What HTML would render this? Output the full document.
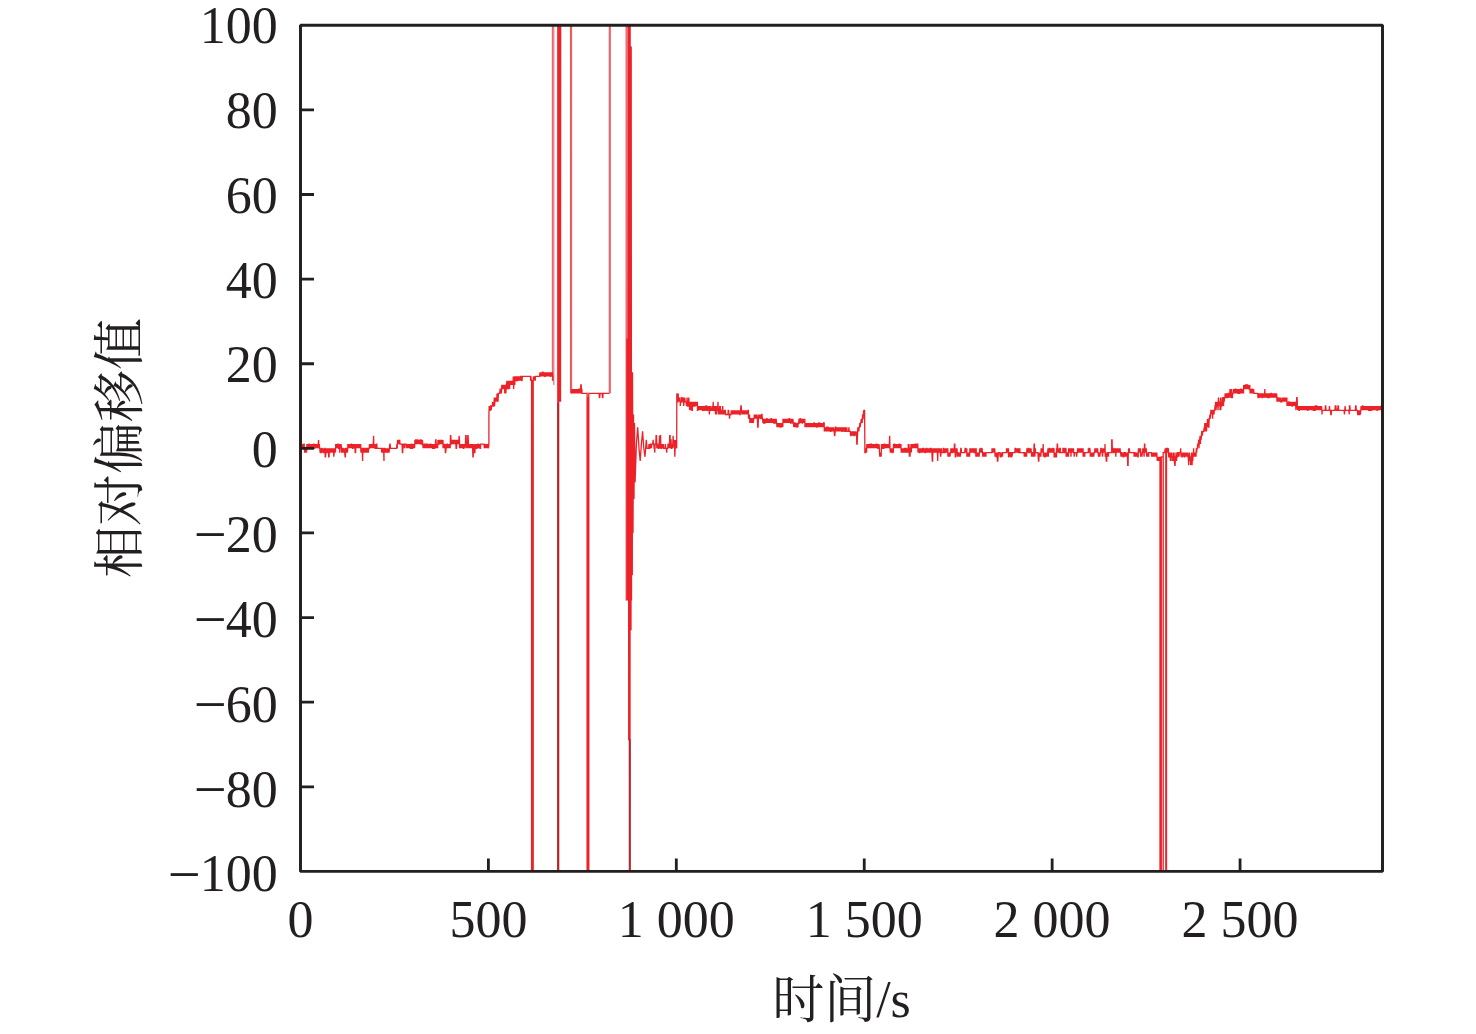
<!DOCTYPE html>
<html lang="zh"><head><meta charset="utf-8"><title>相对偏移值</title>
<style>html,body{margin:0;padding:0;background:#fff}svg{display:block}</style></head>
<body><svg width="1476" height="1034" viewBox="0 0 1476 1034">
<defs><clipPath id="c"><rect x="300.5" y="25.3" width="1082.0" height="846.1"/></clipPath></defs>
<rect width="1476" height="1034" fill="#fff"/>
<path clip-path="url(#c)" d="M300.5 452.6L300.8 448.3L301.2 452.6L301.5 448.3L302.2 448.3L302.5 444.1L302.9 448.3L303.6 448.3L303.9 444.1L304.2 444.1L304.6 452.6L304.9 448.3L305.3 452.6L305.6 448.3L305.9 452.6L306.3 448.3L306.6 452.6L306.9 444.1L307.2 448.3L307.5 448.3L307.9 444.1L308.2 448.3L308.6 448.3L308.9 444.1L309.2 444.1L309.6 448.3L310.3 448.3L310.6 444.1L310.9 448.3L311.3 444.1L311.6 448.3L312 448.3L312.3 444.1L312.6 448.3L313 444.1L313.3 448.3L313.7 444.1L314 444.1L314.2 448.3L314.5 448.3L314.8 444.1L315.2 448.3L315.5 444.1L315.9 448.3L316.2 444.1L316.5 448.3L316.9 444.1L317.2 448.3L317.6 444.1L317.9 448.3L318.2 444.1L318.6 439.9L318.9 448.3L319.3 444.1L319.6 448.3L319.8 448.3L320.1 452.6L320.5 448.3L320.8 452.6L321.2 452.6L321.5 448.3L321.8 448.3L322.2 452.6L322.5 448.3L322.9 452.6L323.2 448.3L323.5 452.6L324.2 452.6L324.6 448.3L324.9 448.3L325.2 456.8L325.6 456.8L325.9 452.6L326.3 448.3L326.6 452.6L326.9 448.3L327.3 452.6L327.6 452.6L327.7 448.3L328.1 452.6L328.4 448.3L328.7 456.8L329.1 456.8L329.4 448.3L329.8 452.6L330.1 448.3L330.4 452.6L330.8 448.3L331.1 452.6L331.5 448.3L331.8 452.6L332.1 448.3L332.5 452.6L332.8 448.3L333.2 452.6L333.5 448.3L333.8 456.8L334.2 452.6L334.5 448.3L334.9 452.6L335.2 448.3L335.5 452.6L335.7 444.1L336 448.3L336.4 444.1L336.7 448.3L337.1 444.1L337.4 448.3L337.7 444.1L338.1 444.1L338.4 448.3L338.8 448.3L339.1 444.1L339.4 448.3L339.8 452.6L340.1 448.3L340.5 444.1L340.8 448.3L341.1 444.1L341.5 448.3L341.7 452.6L342 448.3L342.3 452.6L342.7 448.3L343 448.3L343.4 452.6L343.7 448.3L344 452.6L344.4 448.3L344.7 452.6L345.1 456.8L345.4 456.8L345.7 448.3L346.4 448.3L346.8 452.6L347.1 448.3L347.4 452.6L347.8 448.3L347.8 444.1L348.2 448.3L348.5 444.1L348.9 448.3L349.2 444.1L349.5 448.3L349.9 444.1L350.2 448.3L350.6 444.1L350.9 448.3L351.2 444.1L351.6 444.1L351.9 448.3L352.3 444.1L352.6 448.3L352.9 448.3L353.3 444.1L353.6 448.3L354 444.1L354.3 448.3L354.6 444.1L354.9 448.3L355.2 452.6L355.6 452.6L355.9 444.1L356.3 448.3L356.6 444.1L356.9 448.3L357.3 444.1L357.6 448.3L358 444.1L358.3 448.3L358.6 444.1L359 448.3L359.3 444.1L359.7 448.3L360 444.1L360.3 448.3L360.7 444.1L360.9 452.6L361.2 448.3L361.5 448.3L361.9 452.6L362.2 448.3L362.6 461L362.9 448.3L363.2 448.3L363.6 452.6L363.9 448.3L364.6 448.3L364.9 452.6L365.3 448.3L365.6 452.6L366 448.3L366.3 448.3L366.6 452.6L367 448.3L367.3 452.6L367.7 448.3L368 448.3L368.3 452.6L368.7 448.3L369.2 448.3L369.5 444.1L369.9 448.3L370.2 444.1L370.5 448.3L370.9 444.1L371.2 448.3L371.6 444.1L371.9 448.3L372.2 444.1L372.6 448.3L372.9 444.1L373.3 444.1L373.6 435.7L373.9 448.3L374.3 444.1L374.6 448.3L375 444.1L375.1 448.3L376.1 448.3L376.4 444.1L376.8 444.1L377.1 448.3L381.5 448.3L381.6 452.6L381.9 448.3L382.3 448.3L382.6 452.6L383 448.3L383.3 452.6L383.6 448.3L384 461L384 448.3L384.7 448.3L385 452.6L385.4 448.3L385.7 452.6L386 448.3L386.4 452.6L386.7 448.3L387.1 452.6L387.4 448.3L387.7 452.6L388.1 448.3L388.4 452.6L388.8 448.3L389.1 452.6L389.4 448.3L389.8 444.1L390.1 444.1L390.5 448.3L396.6 448.3L396.9 444.1L397.3 448.3L397.3 444.1L397.6 439.9L398 444.1L398.3 439.9L398.6 444.1L399 439.9L399.3 444.1L399.7 439.9L400 444.1L402 444.1L402.4 452.6L402.7 452.6L403.1 444.1L404.1 444.1L404.4 448.3L404.8 444.1L406.1 444.1L406.4 448.3L406.8 444.1L407.1 448.3L407.5 444.1L407.8 448.3L408.1 444.1L408.5 448.3L408.8 444.1L409.2 448.3L409.5 444.1L409.8 448.3L410.2 444.1L410.5 448.3L411.2 448.3L411.5 444.1L411.9 444.1L412.2 448.3L412.6 448.3L412.9 444.1L413.2 448.3L413.6 444.1L413.9 448.3L414.3 444.1L414.6 448.3L414.9 439.9L415.2 444.1L415.6 439.9L415.9 439.9L416.3 444.1L416.6 439.9L416.9 444.1L417.3 439.9L417.6 439.9L418 444.1L418.3 439.9L418.6 444.1L419 439.9L419.3 444.1L419.7 439.9L420 444.1L420.3 439.9L420.7 439.9L421 444.1L421.4 444.1L421.7 439.9L422 444.1L422.4 439.9L422.7 444.1L422.8 444.1L423.1 448.3L423.5 444.1L423.8 448.3L424.2 444.1L424.5 444.1L424.8 448.3L425.2 444.1L425.5 444.1L425.9 448.3L426.2 444.1L426.5 444.1L426.9 448.3L427.2 444.1L427.6 444.1L427.9 448.3L428.2 444.1L428.6 448.3L428.9 444.1L429.3 448.3L429.6 444.1L429.9 448.3L430.3 444.1L430.9 444.1L431.2 448.3L431.6 444.1L431.9 448.3L432.2 444.1L432.6 448.3L432.9 448.3L433.3 444.1L433.6 448.3L433.9 444.1L434.3 448.3L434.6 448.3L435 444.1L435.3 448.3L435.6 439.9L436 439.9L436.3 448.3L436.7 444.1L437 448.3L437.3 444.1L437.7 448.3L437.9 439.9L438.2 444.1L438.6 439.9L438.9 444.1L439.2 444.1L439.6 439.9L439.9 444.1L440.3 439.9L440.6 444.1L440.9 439.9L441.3 444.1L441.6 439.9L442 444.1L442.3 439.9L442.6 444.1L443 439.9L443 448.3L443.3 444.1L443.7 444.1L444 448.3L444.4 444.1L444.7 448.3L445 444.1L445.4 452.6L445.7 452.6L446.1 448.3L446.4 444.1L446.7 448.3L447.1 444.1L447.4 444.1L447.4 448.3L447.8 444.1L448.1 448.3L448.5 444.1L448.8 448.3L449.1 444.1L449.5 448.3L449.8 444.1L450.2 448.3L450.5 435.7L450.8 435.7L451.2 444.1L451.3 444.1L451.7 439.9L452 444.1L452.3 439.9L452.7 444.1L453 439.9L453.4 444.1L453.7 439.9L454 444.1L454.4 439.9L454.7 444.1L455.1 439.9L455.4 444.1L455.7 439.9L456.1 448.3L456.4 448.3L456.8 444.1L457.1 439.9L457.4 444.1L457.8 439.9L458.1 444.1L458.5 439.9L458.8 444.1L459.1 435.7L459.5 439.9L459.6 448.3L459.9 444.1L460.3 448.3L460.6 444.1L460.9 448.3L461.3 444.1L461.6 448.3L462 444.1L462 448.3L462.3 444.1L462.7 448.3L463 444.1L463.4 448.3L463.7 448.3L464 444.1L464.4 448.3L464.7 444.1L465.1 448.3L465.4 444.1L465.7 435.7L466.1 435.7L466.4 444.1L466.8 448.3L467.1 444.1L467.4 448.3L467.8 435.7L468.1 435.7L468.5 444.1L468.8 448.3L469.1 444.1L469.5 448.3L469.8 444.1L470.2 448.3L470.5 444.1L470.8 448.3L471.2 444.1L471.5 448.3L471.9 444.1L472.2 448.3L472.5 444.1L472.9 456.8L473.2 456.8L473.6 448.3L473.9 444.1L474.2 448.3L474.6 452.6L474.9 452.6L475.3 444.1L475.6 448.3L475.9 448.3L476.3 444.1L476.6 448.3L477 448.3L477.3 444.1L477.6 448.3L478 444.1L478.3 444.1L478.7 448.3L479 444.1L479.3 448.3L479.7 444.1L480 448.3L480.4 448.3L480.7 444.1L484 444.1L484.3 448.3L484.7 444.1L485 448.3L485.4 444.1L485.7 448.3L486 444.1L486.4 448.3L486.7 444.1L487.1 448.3L487.4 444.1L487.7 448.3L488.1 444.1L488.4 448.3L488.9 444.1L488.9 414.5L489.2 406L489.5 410.3L490.2 410.3L490.6 406L490.9 406L491.2 410.3L491.6 406L492.3 406L492.6 401.8L492.9 406L493.3 401.8L493.6 406L494 406L494.3 397.6L494.6 406L495 397.6L495.3 401.8L495.7 397.6L496 401.8L496.3 397.6L496.7 401.8L497 393.4L497.4 397.6L497.7 397.6L498 401.8L498.4 393.4L499.7 393.4L500.1 389.1L500.4 389.1L500.8 393.4L501.1 389.1L501.4 393.4L501.8 384.9L502.1 389.1L502.5 384.9L502.8 389.1L503.1 384.9L503.5 389.1L503.8 384.9L504.2 389.1L504.5 384.9L504.8 393.4L505.2 389.1L505.5 384.9L505.9 393.4L506.2 384.9L506.5 384.9L506.9 380.7L507.2 389.1L507.6 380.7L507.9 389.1L508.2 384.9L508.6 380.7L508.9 389.1L509.3 380.7L509.6 389.1L509.9 380.7L510.3 384.9L510.6 380.7L511 384.9L511.3 380.7L511.6 384.9L512 380.7L512.3 384.9L512.7 380.7L513 384.9L513.3 376.4L513.7 389.1L514 380.7L514.4 376.4L514.7 384.9L515 380.7L515.3 376.4L515.7 380.7L516 376.4L516.4 380.7L516.7 380.7L517 376.4L517.4 380.7L517.7 380.7L518.1 376.4L518.4 380.7L518.7 376.4L519.1 380.7L519.4 376.4L519.8 380.7L520.1 376.4L520.4 380.7L520.8 376.4L521.3 376.4L521.7 380.7L522 380.7L522.4 376.4L530.5 376.4L530.6 380.7L530.9 376.4L531.3 380.7L531.6 380.7L531.6 998.3L532.1 998.3L532.1 380.7L532.7 380.7L532.7 998.3L533.2 998.3L533.2 380.7L533.5 376.4L533.8 380.7L534.2 376.4L534.5 380.7L534.9 376.4L535.2 380.7L535.5 376.4L539.6 376.4L540 372.2L540.3 376.4L540.7 372.2L541 376.4L541.3 372.2L541.7 376.4L542 372.2L542.4 376.4L542.7 372.2L543 372.2L543.4 376.4L543.7 372.2L544.1 376.4L544.4 372.2L544.7 376.4L545.1 376.4L545.4 372.2L545.8 376.4L546.1 372.2L546.4 376.4L546.8 372.2L547.1 376.4L547.5 372.2L547.8 376.4L548 372.2L548.3 376.4L548.7 372.2L549 376.4L549.4 372.2L549.7 376.4L550 372.2L550.4 376.4L550.7 376.4L551.1 372.2L551.4 376.4L551.7 372.2L552.1 376.4L552.4 372.2L552.8 376.4L552.9 380.7M557.8 -101.6L557.8 998.3M558.6 998.3L558.6 -101.6M559.2 -101.6L559.2 401.8L559.5 -101.6L559.9 401.8L560.3 -101.6L560.5 401.8L560.7 -101.6M571.6 393.4L572 389.1L572.3 393.4L572.7 389.1L573 393.4L573.4 389.1L573.7 393.4L574 389.1L574.4 393.4L574.7 389.1L575.1 393.4L575.4 389.1L575.7 393.4L576.1 389.1L576.4 393.4L576.8 389.1L577.1 393.4L577.4 389.1L577.8 393.4L578.1 389.1L578.5 393.4L578.8 389.1L579.1 389.1L579.5 393.4L579.8 389.1L580.2 393.4L580.5 389.1L580.8 384.9L581.2 384.9L581.5 393.4L581.9 389.1L582 393.4L587.1 393.4L587.1 998.3L587.6 998.3L587.6 397.6L588.2 397.6L588.2 998.3L588.8 998.3L588.8 393.4L599.1 393.4L599.4 397.6L599.7 397.6L600.1 393.4L602.1 393.4L602.5 397.6L602.8 397.6L603.1 393.4L609.3 393.4M626.9 338.4L626.9 600.6L627.5 338.4L627.9 600.6L628.4 -101.6L628.7 740.3L629.1 -101.6L629.6 998.3L630 998.3L630.1 -101.6L630.4 630.3L630.7 46.5L631 630.3L631.2 46.5L631.5 600.6L631.9 372.2L632.3 575.3L632.5 372.2L633 533L633.5 414.5L634 499.1L634.5 423L635.1 482.2L636.4 444.1L637.7 427.2L639 448.3L640.2 461L641.4 444.1L642.6 431.4L643.8 448.3L645 456.8L646.3 439.9L647 448.3L648.7 448.3L649 444.1L649.3 448.3L649.7 448.3L650 444.1L650.4 448.3L650.7 444.1L651 444.1L651.4 448.3L651.7 444.1L652.7 444.1L653.1 439.9L653.4 444.1L653.8 444.1L654.1 448.3L654.4 448.3L654.8 452.6L655.1 444.1L655.8 444.1L656.1 435.7L656.5 435.7L656.8 448.3L657.2 444.1L657.8 444.1L658.2 448.3L658.9 448.3L659.2 444.1L659.5 435.7L659.9 448.3L660.2 435.7L660.6 435.7L660.9 448.3L661.6 448.3L661.9 444.1L662.3 448.3L662.6 444.1L662.9 448.3L663.3 444.1L663.6 448.3L665 448.3L665.3 444.1L665.7 448.3L666.3 448.3L666.7 452.6L667 448.3L667.7 448.3L668 444.1L668.4 444.1L668.7 448.3L669.1 444.1L669.4 448.3L669.7 435.7L670.1 435.7L670.4 448.3L670.8 439.9L671.1 439.9L671.4 448.3L671.8 448.3L672.1 444.1L672.5 448.3L672.8 444.1L673.1 435.7L673.5 444.1L673.8 444.1L674.2 448.3L674.5 439.9L674.8 456.8L675.2 448.3L675.5 439.9L675.9 444.1L676.2 444.1L676.7 448.3L676.8 393.4L677.3 401.8L677.8 401.8L678.2 393.4L678.5 401.8L678.9 397.6L679.2 401.8L679.5 397.6L679.9 401.8L680 397.6L680.3 406L680.7 401.8L681.4 401.8L681.7 397.6L682 397.6L682.4 401.8L683.1 401.8L683.4 397.6L683.7 406L684.1 401.8L684.4 401.8L684.8 397.6L685.1 401.8L686.1 401.8L686.5 406L686.8 401.8L687.1 397.6L687.5 406L688.2 406L688.5 401.8L688.8 397.6L689.2 406L689.3 401.8L689.6 410.3L690 401.8L690.3 410.3L690.7 401.8L691 410.3L691.3 406L691.7 401.8L692 410.3L692.4 410.3L692.6 401.8L692.9 406L693.3 401.8L693.6 406L694 406L694.3 401.8L694.6 406L695 406L695.3 401.8L695.7 406L696 401.8L696.3 406L696.7 401.8L697 406L697.4 401.8L697.5 410.3L697.8 410.3L698.2 406L698.5 410.3L698.9 406L699.2 410.3L699.5 406L699.9 410.3L700.2 406L700.6 410.3L700.9 406L701.2 410.3L701.6 406L701.9 410.3L702.3 406L702.6 410.3L702.9 410.3L703.3 406L703.6 410.3L704 410.3L704.3 406L704.6 410.3L705 410.3L705.3 406L705.7 410.3L706 406L706.4 406L706.7 410.3L707.4 410.3L707.8 406L708.1 410.3L708.4 406L708.8 410.3L709.1 410.3L709.5 414.5L709.8 406L710.1 410.3L710.5 406L710.8 410.3L711.8 410.3L712.2 406L712.5 410.3L712.9 410.3L713.2 401.8L713.5 410.3L714.2 410.3L714.6 406L714.9 410.3L715.2 410.3L715.6 414.5L715.9 406L716.3 410.3L716.6 414.5L716.9 406L717.3 410.3L717.6 410.3L718 401.8L718.3 410.3L718.6 414.5L719 410.3L719.3 414.5L719.7 406L720 410.3L720.3 406L720.7 414.5L721 410.3L721.4 410.3L721.7 414.5L722 410.3L722.4 410.3L722.7 406L723.1 414.5L723.4 410.3L723.7 414.5L724.1 410.3L724.4 414.5L724.8 410.3L725.4 410.3L725.5 414.5L727.9 414.5L728.2 410.3L728.6 410.3L728.9 414.5L729.2 414.5L729.6 418.7L729.9 414.5L731 414.5L731.3 410.3L731.7 414.5L732 410.3L732.4 414.5L732.7 410.3L733 414.5L733.4 410.3L733.7 414.5L734.1 410.3L734.4 414.5L734.7 410.3L735.1 414.5L735.4 410.3L735.8 414.5L736.1 410.3L736.4 414.5L736.8 410.3L737.1 414.5L737.5 410.3L737.8 414.5L738.1 410.3L738.5 414.5L738.8 410.3L739.2 414.5L739.5 410.3L739.8 414.5L740.2 414.5L740.5 410.3L740.9 406L741.2 406L741.5 410.3L741.9 414.5L742.2 410.3L742.6 414.5L742.9 410.3L743.2 414.5L743.6 410.3L743.9 414.5L744.3 410.3L744.6 414.5L744.9 410.3L745 414.5L745.3 410.3L745.7 414.5L746 410.3L746.4 414.5L746.7 410.3L747 414.5L747.4 410.3L747.7 414.5L748.1 410.3L748.4 410.3L748.5 418.7L748.8 414.5L749.2 418.7L749.5 414.5L749.9 423L750 418.7L750.3 423L750.7 418.7L751.4 418.7L751.7 423L752 418.7L752.4 423L752.7 418.7L753.1 418.7L753.4 423L753.7 418.7L754 418.7L754.3 414.5L754.7 418.7L755 414.5L755.4 418.7L755.7 414.5L756 418.7L756.4 414.5L756.7 418.7L757.1 414.5L757.4 418.7L757.7 427.2L758.1 427.2L758.4 418.7L758.8 414.5L759.1 418.7L759.4 414.5L759.8 418.7L760.1 414.5L760.5 418.7L760.8 414.5L761 418.7L761.3 418.7L761.7 414.5L762 414.5L762.4 418.7L762.6 418.7L762.9 423L763.3 418.7L763.6 423L764 423L764.3 418.7L764.6 423L765 423L765.3 418.7L765.7 423L766 418.7L766.3 423L766.7 418.7L767 418.7L767.4 423L767.7 418.7L768 423L768.4 418.7L768.7 423L769.1 418.7L769.4 423L769.7 418.7L770.1 423L770.4 418.7L770.8 423L771.1 418.7L771.4 418.7L771.8 423L772.1 418.7L772.5 423L772.8 418.7L773.1 423L773.5 418.7L773.8 423L774.2 423L774.5 418.7L774.8 423L775.2 423L775.5 418.7L775.9 423L776.2 418.7L776.5 423L776.7 423L777 427.2L777.4 423L777.7 427.2L778.1 423L778.4 427.2L778.7 423L779.1 427.2L779.4 423L779.8 427.2L780.1 423L780.4 427.2L780.8 427.2L781.1 423L781.5 427.2L781.8 423L782.1 427.2L782.5 423L782.8 427.2L783 418.7L783.3 423L783.7 418.7L784 423L784.4 418.7L784.7 423L785 418.7L785.4 423L785.7 418.7L786.1 423L786.4 418.7L786.7 423L787.1 418.7L787.4 423L787.8 418.7L788.1 423L788.4 418.7L788.8 423L789.1 418.7L789.5 418.7L789.8 423L790.1 418.7L790.5 423L790.8 423L791.2 418.7L791.5 423L791.8 418.7L792.2 423L792.5 423L792.9 418.7L793.2 423L793.5 423L793.8 427.2L794.2 423L794.5 427.2L794.9 423L795.2 423L795.5 427.2L795.9 423L796.2 427.2L796.6 423L796.9 427.2L797.2 427.2L797.6 423L797.9 427.2L798.3 423L798.7 423L799 418.7L799.4 423L799.7 423L800.1 418.7L800.4 418.7L800.7 423L801.1 418.7L801.4 423L801.8 418.7L802.1 423L802.4 423L802.8 418.7L803.1 423L803.5 418.7L803.8 423L804.1 418.7L804.5 423L804.8 418.7L805 427.2L805.3 423L805.7 427.2L806 423L806.4 427.2L806.7 423L807 427.2L807.4 423L807.7 427.2L808.1 423L808.4 427.2L808.7 423L809.1 427.2L809.4 423L809.8 427.2L810.1 423L810.4 427.2L810.8 423L811.1 427.2L811.5 423L811.8 427.2L812 423L812.3 427.2L812.7 423L813 427.2L813.4 423L813.7 427.2L814 423L814.4 423L814.7 427.2L815.1 423L815.4 427.2L815.7 423L816.1 427.2L816.4 423L816.8 427.2L817.1 427.2L817.4 423L817.8 427.2L818.1 423L818.5 427.2L818.8 423L819.5 423L819.8 427.2L820.2 423L820.5 427.2L820.8 423L821.2 427.2L821.5 423L821.9 427.2L822.2 423L822.5 427.2L822.9 423L823.2 427.2L823.6 423L824.2 423L824.3 431.4L824.6 427.2L825 431.4L825.3 427.2L825.7 431.4L826 427.2L826.3 431.4L826.7 427.2L827 427.2L827.4 431.4L827.7 427.2L828 427.2L828.4 431.4L828.7 427.2L829.1 431.4L829.4 427.2L829.7 431.4L830.1 427.2L830.4 431.4L830.8 431.4L831.1 427.2L831.4 431.4L831.8 427.2L832.1 431.4L832.5 427.2L832.8 431.4L833.1 427.2L833.5 431.4L833.8 427.2L834.2 431.4L834.5 435.7L834.8 435.7L835.2 431.4L835.5 427.2L835.9 427.2L836.2 431.4L836.5 427.2L836.9 431.4L837.2 427.2L837.6 431.4L837.9 427.2L838.2 431.4L838.6 427.2L838.9 431.4L839.3 427.2L839.6 431.4L839.9 427.2L840.3 431.4L840.6 427.2L841 431.4L841.3 427.2L841.6 431.4L842 427.2L842 431.4L842.3 431.4L842.7 427.2L843 431.4L843.4 427.2L843.7 431.4L844 427.2L844.4 431.4L844.7 431.4L845.1 427.2L845.4 431.4L845.7 431.4L846.1 427.2L846.4 431.4L846.8 427.2L847.1 431.4L848.6 431.4L848.9 427.2L849.2 431.4L850.3 431.4L850.6 435.7L851 435.7L851.4 431.4L851.7 435.7L852.1 431.4L852.4 435.7L852.7 431.4L853.1 435.7L853.4 431.4L853.8 435.7L854.1 435.7L854.4 431.4L854.8 435.7L855.1 431.4L855.5 435.7L855.8 431.4L856.1 435.7L856.5 431.4L856.8 444.1L857.2 444.1L857.5 435.7L857.8 427.2L858.1 431.4L858.5 427.2L858.8 431.4L859.2 427.2L859.5 427.2L859.8 423L860.2 427.2L860.5 423L860.9 423L861.2 418.7L861.5 423L861.9 418.7L862.2 423L862.6 414.5L862.9 418.7L863.2 418.7L863.6 410.3L863.9 414.5L864.3 410.3L864.6 410.3L864.9 452.6L865.6 452.6L865.9 448.3L866.3 448.3L866.6 452.6L866.8 444.1L867.1 448.3L867.5 444.1L867.8 448.3L868.2 444.1L868.5 448.3L868.8 444.1L869.2 448.3L869.5 444.1L869.9 448.3L870.2 444.1L870.5 444.1L870.9 448.3L871.2 444.1L871.6 444.1L871.9 448.3L872.2 444.1L872.6 448.3L872.9 444.1L873.3 448.3L873.6 444.1L873.9 448.3L874.3 444.1L874.6 448.3L875 444.1L875.3 448.3L875.6 444.1L876 448.3L876.3 444.1L876.7 444.1L877 448.3L877.3 444.1L877.7 448.3L878 448.3L878.4 444.1L878.7 448.3L879 444.1L879.4 448.3L879.5 452.6L879.8 456.8L880.2 452.6L880.5 456.8L880.9 452.6L881.2 456.8L881.5 444.1L881.8 448.3L882.2 444.1L882.5 448.3L882.9 448.3L883.2 444.1L883.5 448.3L883.9 448.3L884.2 444.1L884.6 444.1L884.9 448.3L885.2 444.1L885.6 448.3L885.9 444.1L886.3 448.3L886.6 444.1L886.9 448.3L887.3 444.1L887.6 448.3L888 444.1L888.3 448.3L888.6 444.1L889 448.3L889.3 444.1L889.7 435.7L890 448.3L890.3 452.6L890.7 448.3L891 452.6L891.4 448.3L891.7 452.6L892 448.3L892.4 452.6L892.7 452.6L893.1 448.3L893.4 452.6L893.5 444.1L893.8 448.3L894.2 444.1L894.5 444.1L894.9 448.3L895.2 444.1L895.5 448.3L895.9 444.1L896.2 448.3L896.6 444.1L896.9 448.3L897.2 444.1L897.6 448.3L897.9 444.1L898.3 448.3L898.6 444.1L898.9 448.3L899.3 444.1L899.6 444.1L900 448.3L900.3 444.1L900.6 448.3L901 444.1L901 448.3L901.3 452.6L901.7 448.3L902 452.6L902.4 448.3L902.7 452.6L903 448.3L903.4 452.6L903.7 448.3L904.1 452.6L904.4 448.3L904.7 448.3L905.1 452.6L905.4 448.3L905.8 448.3L906.1 452.6L906.4 448.3L906.8 452.6L907.1 448.3L907.5 452.6L907.8 448.3L908 452.6L908.3 444.1L908.7 452.6L909 444.1L909.4 456.8L909.7 448.3L910 456.8L910.4 448.3L910.7 448.3L911.1 444.1L911.4 452.6L911.7 444.1L912 448.3L912.3 444.1L912.7 448.3L913 444.1L913.4 448.3L913.7 444.1L914 448.3L914.4 444.1L914.7 448.3L915.1 444.1L915.7 444.1L916.1 448.3L916.4 444.1L916.8 448.3L917.1 444.1L917.8 444.1L918 452.6L918.3 448.3L918.7 452.6L919 448.3L919.4 452.6L919.7 452.6L920 448.3L920.4 452.6L920.7 448.3L921.1 452.6L921.4 448.3L921.7 452.6L922.1 448.3L922.4 452.6L922.8 448.3L923.4 448.3L923.8 452.6L924.1 448.3L924.5 452.6L924.8 448.3L925.1 452.6L925.5 452.6L925.8 448.3L926.2 452.6L926.5 448.3L926.8 448.3L927.2 452.6L927.5 448.3L927.9 452.6L928.2 448.3L928.5 452.6L928.9 448.3L929.2 452.6L929.6 448.3L929.9 452.6L930.2 448.3L930.9 448.3L931.3 452.6L931.6 448.3L931.9 452.6L932.3 461L932.6 461L933 448.3L933.3 452.6L933.6 448.3L934 452.6L934.3 448.3L934.7 452.6L935 448.3L935.3 452.6L935.7 448.3L936 452.6L936.4 448.3L936.7 452.6L937 448.3L937.4 452.6L937.7 461L938.1 448.3L938.4 452.6L938.7 448.3L939.1 452.6L939.4 448.3L939.8 452.6L940 448.3L940.3 452.6L940.7 456.8L941 452.6L941.4 448.3L941.6 452.6L943 452.6L943.3 448.3L943.7 448.3L944 452.6L945 452.6L945.1 448.3L945.4 452.6L945.8 448.3L946.1 452.6L946.5 448.3L946.8 452.6L947.1 448.3L947.5 452.6L947.8 448.3L947.9 456.8L948.3 452.6L948.6 456.8L949 452.6L949.3 456.8L949.6 452.6L950 456.8L950.3 452.6L950.6 452.6L950.9 448.3L951.3 452.6L951.6 448.3L951.9 452.6L952.3 452.6L952.4 448.3L952.7 452.6L953.1 448.3L953.4 452.6L953.8 448.3L954.1 452.6L954.4 444.1L954.8 444.1L955.1 452.6L955.3 456.8L955.7 456.8L956 452.6L956.3 448.3L956.7 452.6L957 448.3L957.4 456.8L957.7 452.6L958 452.6L958.4 456.8L958.7 452.6L959.1 456.8L959.4 452.6L959.7 456.8L960.1 452.6L960.4 456.8L960.5 452.6L960.8 448.3L961.2 448.3L961.5 452.6L964.7 452.6L965.1 448.3L965.4 448.3L965.8 452.6L966.1 448.3L966.4 452.6L966.8 448.3L966.9 456.8L967.2 452.6L967.6 456.8L967.9 452.6L968.3 456.8L968.6 452.6L968.9 456.8L969.3 452.6L969.6 456.8L969.9 448.3L970.3 452.6L970.6 448.3L970.9 452.6L971.3 448.3L971.6 452.6L972 448.3L972.3 452.6L972.6 448.3L973 452.6L973.3 448.3L973.5 452.6L973.8 448.3L974.2 452.6L974.5 452.6L974.9 448.3L975.2 452.6L975.5 448.3L975.9 456.8L976.2 448.3L976.3 456.8L976.7 452.6L977 456.8L977.4 452.6L977.7 456.8L978 452.6L978.4 456.8L978.7 452.6L979.1 456.8L979.4 452.6L979.4 452.6L979.8 448.3L980.1 452.6L980.4 448.3L980.8 452.6L981.1 448.3L981.5 448.3L981.8 452.6L982.1 448.3L982.5 452.6L982.5 452.6L982.8 456.8L983.2 452.6L983.5 456.8L983.8 452.6L984.2 452.6L984.5 456.8L984.9 452.6L985.2 456.8L985.5 452.6L985.9 456.8L986.1 452.6L991.9 452.6L992 448.3L992.3 452.6L992.7 448.3L993 452.6L993.4 448.3L993.7 452.6L994 448.3L994.4 452.6L994.7 448.3L995.1 456.8L995.4 452.6L995.7 456.8L996.1 452.6L996.4 456.8L996.7 456.8L997.1 452.6L997.4 461L997.8 461L998.1 456.8L998.4 452.6L999.8 452.6L1000 456.8L1000.3 452.6L1000.7 456.8L1001 456.8L1001.3 452.6L1001.7 456.8L1002 452.6L1002.4 456.8L1002.7 452.6L1006.4 452.6L1006.5 448.3L1006.8 452.6L1007.1 448.3L1007.5 452.6L1007.8 448.3L1008.2 452.6L1008.5 448.3L1008.5 456.8L1008.8 456.8L1009.2 452.6L1009.5 452.6L1009.9 456.8L1010.2 452.6L1010.5 452.6L1010.9 456.8L1011.2 456.8L1011.4 452.6L1011.7 452.6L1012.1 456.8L1012.4 452.6L1014.8 452.6L1015.1 448.3L1015.5 448.3L1015.8 452.6L1016.1 448.3L1016.5 452.6L1016.8 448.3L1017.2 452.6L1017.5 448.3L1017.8 452.6L1018.2 448.3L1018.5 452.6L1018.9 452.6L1019.2 448.3L1019.5 452.6L1019.9 448.3L1019.9 452.6L1024 452.6L1024.3 456.8L1024.6 452.6L1024.9 452.6L1025.3 456.8L1025.6 452.6L1026 456.8L1026.3 452.6L1026.6 456.8L1026.9 448.3L1027.2 452.6L1027.6 448.3L1027.9 452.6L1028.3 448.3L1028.6 448.3L1028.9 452.6L1029.3 452.6L1029.6 448.3L1030 452.6L1030.3 448.3L1030.6 452.6L1031 448.3L1031.3 452.6L1031.4 452.6L1031.7 456.8L1032 452.6L1032.4 452.6L1032.7 456.8L1033.1 452.6L1033.4 456.8L1033.7 452.6L1034.1 444.1L1034.4 444.1L1034.8 456.8L1035.1 452.6L1035.4 448.3L1035.5 452.6L1037.8 452.6L1038.2 456.8L1038.5 461L1038.8 461L1039.2 452.6L1039.5 456.8L1039.9 452.6L1040.2 456.8L1040.5 452.6L1040.9 456.8L1041.1 448.3L1041.5 452.6L1041.8 448.3L1042.1 452.6L1042.5 448.3L1042.8 452.6L1043.2 444.1L1043.4 456.8L1043.7 452.6L1044.1 456.8L1044.4 452.6L1044.7 456.8L1045.1 456.8L1045.4 452.6L1045.8 456.8L1046.1 452.6L1046.4 456.8L1046.8 452.6L1047.1 456.8L1047.5 452.6L1047.6 452.6L1048 448.3L1048.3 456.8L1048.7 448.3L1049 452.6L1049.3 448.3L1049.7 448.3L1050 452.6L1050.4 448.3L1050.7 452.6L1051 448.3L1051.4 452.6L1051.7 448.3L1052 452.6L1052.3 448.3L1052.6 452.6L1053 448.3L1053.3 448.3L1053.7 452.6L1054 448.3L1054.1 456.8L1054.4 456.8L1054.8 452.6L1055.1 456.8L1055.5 456.8L1055.8 452.6L1056.1 456.8L1056.5 456.8L1056.5 448.3L1056.9 452.6L1057.2 444.1L1057.5 444.1L1057.9 452.6L1058.2 448.3L1058.6 452.6L1058.9 448.3L1059.2 452.6L1059.6 452.6L1059.9 448.3L1060.3 448.3L1060.5 452.6L1062.8 452.6L1062.9 448.3L1063.3 448.3L1063.6 452.6L1063.9 448.3L1064.3 452.6L1064.6 452.6L1065 448.3L1065.3 448.3L1065.6 452.6L1066 448.3L1066.1 456.8L1066.4 452.6L1066.8 456.8L1067.1 452.6L1067.5 456.8L1067.8 452.6L1068.1 452.6L1068.5 456.8L1068.6 448.3L1068.9 452.6L1069.3 448.3L1069.6 452.6L1070 448.3L1070.3 452.6L1070.6 448.3L1071 456.8L1071.1 452.6L1071.5 448.3L1071.8 452.6L1072.1 448.3L1072.5 452.6L1072.8 448.3L1073.2 452.6L1073.5 448.3L1073.6 452.6L1073.9 452.6L1074.3 456.8L1074.6 452.6L1076.3 452.6L1076.7 456.8L1077 452.6L1077.4 452.6L1077.7 448.3L1078 452.6L1078.4 448.3L1078.7 452.6L1079.1 448.3L1079.4 452.6L1079.7 448.3L1080.1 452.6L1080.4 448.3L1080.8 452.6L1081 448.3L1081.4 452.6L1081.7 448.3L1082.1 452.6L1082.4 448.3L1082.7 452.6L1083.1 448.3L1083.1 456.8L1083.5 452.6L1083.8 456.8L1084.1 452.6L1084.5 452.6L1084.8 456.8L1084.9 452.6L1088.3 452.6L1088.3 448.3L1088.7 452.6L1089 448.3L1089.3 448.3L1089.7 452.6L1090 448.3L1090.3 456.8L1090.7 452.6L1091 456.8L1091.4 452.6L1091.7 456.8L1092 452.6L1092.4 456.8L1092.7 452.6L1093.1 456.8L1093.4 452.6L1093.7 456.8L1094.1 452.6L1094.6 452.6L1094.9 448.3L1095.3 452.6L1095.6 448.3L1095.9 452.6L1096.3 448.3L1096.6 452.6L1097 448.3L1097.3 452.6L1097.6 448.3L1097.9 452.6L1098.2 452.6L1098.5 456.8L1098.9 452.6L1099.2 456.8L1099.6 452.6L1099.9 456.8L1100.2 452.6L1100.5 452.6L1100.8 448.3L1101.1 448.3L1101.5 452.6L1101.8 448.3L1102.2 452.6L1102.5 456.8L1102.8 452.6L1103.2 448.3L1103.4 452.6L1103.8 448.3L1104.1 452.6L1104.5 448.3L1104.8 452.6L1105 444.1L1105.3 456.8L1105.7 452.6L1106 456.8L1106.3 461L1106.7 461L1107 452.6L1107.4 456.8L1107.7 452.6L1108 452.6L1108.4 456.8L1108.6 452.6L1111.7 452.6L1111.7 439.9L1112.1 439.9L1112.4 452.6L1112.8 448.3L1113.1 448.3L1113.4 452.6L1113.8 452.6L1114.1 448.3L1114.5 452.6L1114.8 448.3L1115.1 452.6L1115.5 448.3L1115.8 456.8L1116.2 448.3L1116.5 452.6L1116.8 448.3L1117.2 452.6L1117.5 448.3L1117.9 452.6L1118.2 448.3L1118.5 452.6L1118.9 448.3L1119.1 452.6L1119.4 448.3L1119.7 452.6L1120.1 448.3L1120.4 452.6L1120.6 452.6L1121 456.8L1121.3 452.6L1121.6 452.6L1122 456.8L1122.3 452.6L1122.7 456.8L1123 452.6L1123.3 456.8L1123.7 456.8L1124 452.6L1124.4 452.6L1124.7 456.8L1125 452.6L1125.4 452.6L1125.7 456.8L1126 452.6L1126.4 456.8L1126.7 452.6L1127.1 456.8L1127.4 452.6L1127.7 465.3L1128.1 465.3L1128.3 452.6L1128.7 448.3L1129 452.6L1129.3 448.3L1129.7 452.6L1134 452.6L1134.1 456.8L1134.5 452.6L1134.8 452.6L1135.2 456.8L1135.5 452.6L1135.8 456.8L1136.2 452.6L1136.5 456.8L1136.9 452.6L1137.2 456.8L1137.5 452.6L1137.9 456.8L1138.2 456.8L1138.4 448.3L1138.8 452.6L1139.1 448.3L1139.4 452.6L1139.8 448.3L1140.1 452.6L1140.5 448.3L1140.6 456.8L1140.9 452.6L1141.3 456.8L1141.6 452.6L1141.9 456.8L1142.3 452.6L1142.4 452.6L1142.8 448.3L1143.1 452.6L1143.4 448.3L1143.8 452.6L1144.1 456.8L1144.5 444.1L1144.8 444.1L1145.1 452.6L1145.5 448.3L1145.8 452.6L1146.2 448.3L1146.5 452.6L1146.7 456.8L1147 452.6L1147.4 456.8L1147.7 452.6L1148 456.8L1148.4 452.6L1148.7 456.8L1148.8 452.6L1151.4 452.6L1151.7 456.8L1152.1 452.6L1152.4 456.8L1152.8 452.6L1153.1 456.8L1153.4 452.6L1153.8 456.8L1154.1 452.6L1154.5 456.8L1154.8 452.6L1155.1 456.8L1155.5 452.6L1155.8 456.8L1156.2 452.6L1156.5 456.8L1156.8 452.6L1157 456.8L1157.3 461L1157.7 456.8L1158 461L1158.4 456.8L1158.7 461L1159 456.8L1159.4 461L1160 456.8L1160 998.3L1160.7 998.3L1160.7 461L1160.7 998.3L1161.3 998.3L1161.3 456.8L1163.2 456.8L1163.2 998.3L1163.2 452.6L1164.5 452.6L1165.3 448.3L1165.8 452.6L1165.8 998.3L1166.5 998.3L1166.5 448.3L1166.7 448.3L1167 452.6L1167.4 448.3L1167.7 448.3L1168.1 452.6L1168.4 448.3L1168.7 456.8L1169 456.8L1169.3 452.6L1169.7 456.8L1170 452.6L1170.4 461L1170.7 452.6L1171 456.8L1171.4 456.8L1171.7 452.6L1172.1 461L1172.4 456.8L1172.7 456.8L1173.1 461L1173.4 452.6L1173.8 456.8L1174.1 452.6L1174.4 461L1174.8 465.3L1175.1 465.3L1175.5 456.8L1175.8 456.8L1176.1 452.6L1176.5 461L1176.8 456.8L1177.5 456.8L1177.6 452.6L1177.9 452.6L1178.3 456.8L1178.6 452.6L1179 456.8L1179.3 452.6L1180.3 452.6L1180.7 448.3L1181 456.8L1181 452.6L1181.3 456.8L1181.7 452.6L1182 456.8L1182.4 456.8L1182.7 452.6L1183 456.8L1183.4 452.6L1183.7 456.8L1184.1 452.6L1184.4 456.8L1184.7 456.8L1185.1 452.6L1185.4 456.8L1185.8 452.6L1186.1 456.8L1186.4 452.6L1186.8 456.8L1187.1 452.6L1187.5 456.8L1187.8 452.6L1188 456.8L1188.3 456.8L1188.7 465.3L1189 456.8L1189.4 452.6L1189.7 456.8L1190 461L1190.4 456.8L1190.7 465.3L1191.1 456.8L1191.4 456.8L1191.7 452.6L1192.1 465.3L1192.4 456.8L1192.8 461L1193.1 452.6L1193.4 456.8L1193.6 448.3L1193.9 456.8L1194.3 452.6L1194.6 456.8L1195 452.6L1195.3 456.8L1195.6 452.6L1196 456.8L1196.3 448.3L1196.7 452.6L1197 448.3L1197.3 448.3L1197.7 444.1L1198.4 444.1L1198.7 439.9L1199 448.3L1199.4 439.9L1199.7 439.9L1200.1 435.7L1200.4 444.1L1200.7 435.7L1201.1 439.9L1201.4 435.7L1201.8 431.4L1202.1 431.4L1202.4 435.7L1202.8 431.4L1203.8 431.4L1204.1 427.2L1204.5 431.4L1204.8 423L1205.2 431.4L1205.5 423L1205.8 427.2L1206.2 423L1206.5 431.4L1206.9 423L1207.2 427.2L1207.5 418.7L1207.9 427.2L1208.2 418.7L1208.6 427.2L1208.9 427.2L1209.2 418.7L1209.6 418.7L1209.9 414.5L1210.3 418.7L1210.6 414.5L1210.9 410.3L1211.6 410.3L1212 414.5L1212.3 410.3L1212.6 418.7L1213 410.3L1213.7 410.3L1214 414.5L1214.3 410.3L1214.7 410.3L1215 406L1215.4 406L1215.7 401.8L1216 410.3L1216.4 406L1216.7 406L1217.1 401.8L1217.4 406L1217.7 406L1218.1 410.3L1218.4 397.6L1218.8 406L1219.1 401.8L1219.4 406L1219.8 401.8L1220.1 410.3L1220.5 397.6L1220.8 410.3L1221.1 401.8L1221.5 406L1221.8 406L1222.2 397.6L1222.5 406L1222.8 397.6L1223.2 397.6L1223.5 406L1223.9 397.6L1224.2 401.8L1224.5 397.6L1224.9 397.6L1225.2 393.4L1225.6 397.6L1226.2 397.6L1226.6 393.4L1226.9 397.6L1227.3 393.4L1227.6 397.6L1227.9 397.6L1228.3 393.4L1228.6 393.4L1229 397.6L1229.3 393.4L1229.6 397.6L1230 389.1L1230.3 397.6L1230.7 389.1L1231 397.6L1231.3 389.1L1231.7 397.6L1232.4 397.6L1232.7 393.4L1233 393.4L1233.4 389.1L1233.7 393.4L1234 389.1L1234.3 393.4L1234.7 389.1L1235 393.4L1235.4 389.1L1235.7 389.1L1236 393.4L1236.4 389.1L1236.7 393.4L1237.1 389.1L1237.4 393.4L1237.7 389.1L1238.1 393.4L1238.4 393.4L1238.8 389.1L1239.1 393.4L1239.8 393.4L1240.1 389.1L1240.5 393.4L1240.8 389.1L1241.1 389.1L1241.5 393.4L1241.8 389.1L1242.2 393.4L1242.5 389.1L1242.8 393.4L1243.2 389.1L1243.5 393.4L1243.7 384.9L1244 389.1L1244.4 384.9L1244.7 389.1L1245.1 384.9L1245.4 389.1L1245.7 384.9L1246.1 384.9L1246.4 389.1L1246.8 384.9L1247.4 384.9L1247.8 389.1L1248.1 384.9L1248.5 389.1L1248.8 384.9L1249.1 389.1L1249.5 389.1L1249.8 384.9L1249.9 389.1L1250.2 393.4L1250.6 389.1L1250.9 393.4L1251.3 389.1L1251.6 393.4L1251.9 389.1L1252.3 389.1L1252.6 393.4L1253 389.1L1253.3 393.4L1253.6 389.1L1254 393.4L1257.7 393.4L1258 397.6L1258.7 397.6L1259 393.4L1259.4 397.6L1259.7 393.4L1260 397.6L1260.4 393.4L1260.7 397.6L1261.1 393.4L1261.4 397.6L1261.7 393.4L1262.1 397.6L1262.4 397.6L1262.8 393.4L1263.1 397.6L1263.4 393.4L1263.8 397.6L1264.1 393.4L1264.5 397.6L1264.8 389.1L1265.1 397.6L1265.5 393.4L1265.8 397.6L1266.2 393.4L1266.5 397.6L1266.8 393.4L1267.2 397.6L1267.5 393.4L1267.8 397.6L1268.2 397.6L1268.5 393.4L1268.9 397.6L1269.2 397.6L1269.5 393.4L1269.9 397.6L1270.2 393.4L1270.6 397.6L1270.9 393.4L1271.2 393.4L1271.6 397.6L1271.9 393.4L1272.3 397.6L1272.6 393.4L1272.9 397.6L1273.3 393.4L1273.6 397.6L1274 393.4L1274.3 397.6L1274.6 393.4L1275 397.6L1275.3 393.4L1275.7 397.6L1276 393.4L1276.3 397.6L1276.7 393.4L1277 401.8L1277.3 397.6L1277.7 397.6L1278 401.8L1278.4 397.6L1278.7 401.8L1279 397.6L1279.4 401.8L1279.7 397.6L1280.1 401.8L1280.4 397.6L1280.7 401.8L1281.8 401.8L1282.1 397.6L1282.4 401.8L1282.8 397.6L1283.1 401.8L1283.5 397.6L1283.8 401.8L1284.1 397.6L1284.5 401.8L1284.8 397.6L1285.2 401.8L1285.5 397.6L1285.8 401.8L1286.2 397.6L1286.5 401.8L1286.9 397.6L1287 406L1287.3 401.8L1287.7 406L1288 401.8L1288.4 406L1288.7 401.8L1289 401.8L1289.4 406L1289.7 401.8L1290.1 406L1290.4 401.8L1290.7 406L1291.1 401.8L1291.4 406L1291.8 401.8L1292.1 406L1292.4 406L1292.8 401.8L1293.1 406L1293.5 401.8L1293.8 406L1294.1 401.8L1294.5 406L1294.8 401.8L1295.2 406L1295.5 401.8L1295.7 406L1296 410.3L1296.4 406L1296.7 397.6L1297.1 397.6L1297.4 406L1297.7 410.3L1298.1 406L1298.4 410.3L1298.8 406L1299.1 410.3L1299.4 410.3L1299.8 406L1300.1 410.3L1300.5 406L1300.8 410.3L1301.1 406L1301.5 410.3L1301.8 406L1302.2 410.3L1302.5 406L1302.8 410.3L1303.2 406L1303.5 410.3L1303.9 406L1304.2 410.3L1304.5 406L1304.9 410.3L1305.2 406L1305.6 410.3L1305.9 406L1306.2 410.3L1306.6 406L1306.9 410.3L1307.3 406L1307.6 410.3L1307.9 410.3L1308.3 406L1308.6 410.3L1309 406L1309.3 410.3L1309.6 406L1310 410.3L1310.3 406L1310.7 410.3L1311 406L1311.3 410.3L1311.7 406L1312 410.3L1312.4 406L1312.7 410.3L1313 406L1313.4 410.3L1314.1 410.3L1314.4 406L1314.7 410.3L1315.1 410.3L1315.4 406L1315.8 406L1316.1 410.3L1316.4 406L1316.8 406L1317.1 410.3L1317.5 406L1317.8 410.3L1318.1 406L1318.5 410.3L1318.8 406L1319.2 410.3L1319.5 406L1319.8 410.3L1320.2 406L1320.5 410.3L1320.9 406L1321.2 410.3L1321.5 406L1321.9 410.3L1322 414.5L1322.3 410.3L1325.1 410.3L1325.4 406L1325.7 406L1326.1 410.3L1329.1 410.3L1329.5 406L1329.8 410.3L1330.5 410.3L1330.8 414.5L1331.2 414.5L1331.5 410.3L1334.9 410.3L1335.3 406L1335.9 406L1336.3 410.3L1337.6 410.3L1338 406L1338.3 406L1338.7 410.3L1344.1 410.3L1344.4 414.5L1344.8 410.3L1345.1 406L1345.5 410.3L1348.9 410.3L1349.2 414.5L1349.5 406L1349.9 406L1350.2 410.3L1355.3 410.3L1355.7 406L1356 406L1356.3 410.3L1357.4 410.3L1357.7 414.5L1358.1 414.5L1358.4 410.3L1358.7 414.5L1359.1 410.3L1359.4 414.5L1359.8 414.5L1360.1 410.3L1360.4 414.5L1360.8 410.3L1360.8 410.3L1361.1 406L1361.5 410.3L1361.8 406L1362.2 410.3L1362.5 406L1362.8 406L1363.2 410.3L1363.5 406L1363.9 410.3L1364.2 406L1364.5 410.3L1364.9 406L1365.2 410.3L1365.6 406L1365.9 410.3L1366.2 406L1366.6 410.3L1366.9 406L1367.3 410.3L1367.6 406L1367.9 410.3L1368.3 406L1368.6 410.3L1369 410.3L1369.3 406L1369.6 410.3L1370 406L1370.3 410.3L1370.7 410.3L1371 406L1371.3 410.3L1371.7 410.3L1372 406L1372.4 410.3L1372.7 406L1373 410.3L1373.4 406L1373.7 410.3L1374.1 406L1374.4 410.3L1374.7 406L1375.1 410.3L1375.4 406L1375.8 410.3L1376.1 406L1376.4 410.3L1376.8 406L1377.1 410.3L1377.5 410.3L1377.8 406L1378.1 410.3L1378.5 406L1378.8 410.3L1379.2 406L1379.5 410.3L1379.8 406L1380.2 410.3L1380.5 406L1380.9 410.3L1381.2 406L1381.5 406L1381.9 410.3L1382.6 410.3" fill="none" stroke="#ed2229" stroke-width="1.3" stroke-linejoin="miter" stroke-miterlimit="2"/>
<path clip-path="url(#c)" d="M552.35 25.3V380.7M553.8 25.3V384.9M570.45 25.3V393.4M571.65 25.3V393.4M609.25 25.3V393.4M610.25 25.3V393.4M626.1 25.3V600.6M627.1 25.3V338.4" fill="none" stroke="#dc1f27" stroke-width="0.8"/>
<path clip-path="url(#c)" d="M558.2 403V871.4M629.75 739V871.4" fill="none" stroke="#a9292e" stroke-width="1.8"/>
<rect x="300.5" y="25.3" width="1082.0" height="846.1" fill="none" stroke="#231f20" stroke-width="2.95" stroke-linejoin="bevel"/>
<path d="M300.5 786.79h13.5M300.5 702.18h13.5M300.5 617.57h13.5M300.5 532.96h13.5M300.5 448.35h13.5M300.5 363.74h13.5M300.5 279.13h13.5M300.5 194.52h13.5M300.5 109.91h13.5M488.41 871.4v-13.0M676.32 871.4v-13.0M864.24 871.4v-13.0M1052.15 871.4v-13.0M1240.06 871.4v-13.0" stroke="#231f20" stroke-width="2.8" fill="none"/>
<g font-family="'Liberation Serif', 'Noto Serif CJK SC', serif" font-size="52" fill="#231f20">
<text x="277.7" y="891.3" text-anchor="end"><tspan font-size="58.5" dy="2.2" letter-spacing="-1">−</tspan><tspan dy="-2.2">100</tspan></text>
<text x="277.7" y="806.5" text-anchor="end"><tspan font-size="58.5" dy="2.2" letter-spacing="-1">−</tspan><tspan dy="-2.2">80</tspan></text>
<text x="277.7" y="721.7" text-anchor="end"><tspan font-size="58.5" dy="2.2" letter-spacing="-1">−</tspan><tspan dy="-2.2">60</tspan></text>
<text x="277.7" y="636.9" text-anchor="end"><tspan font-size="58.5" dy="2.2" letter-spacing="-1">−</tspan><tspan dy="-2.2">40</tspan></text>
<text x="277.7" y="552.1" text-anchor="end"><tspan font-size="58.5" dy="2.2" letter-spacing="-1">−</tspan><tspan dy="-2.2">20</tspan></text>
<text x="277.7" y="467.2" text-anchor="end">0</text>
<text x="277.7" y="382.4" text-anchor="end">20</text>
<text x="277.7" y="297.6" text-anchor="end">40</text>
<text x="277.7" y="212.8" text-anchor="end">60</text>
<text x="277.7" y="128.0" text-anchor="end">80</text>
<text x="277.7" y="43.2" text-anchor="end">100</text>
<text x="300.5" y="937.3" text-anchor="middle">0</text>
<text x="488.4" y="937.3" text-anchor="middle">500</text>
<text x="676.3" y="937.3" text-anchor="middle">1 000</text>
<text x="864.2" y="937.3" text-anchor="middle">1 500</text>
<text x="1052.1" y="937.3" text-anchor="middle">2 000</text>
<text x="1240.1" y="937.3" text-anchor="middle">2 500</text>
<text x="841.5" y="1017" text-anchor="middle"><tspan dy="1.3">时间</tspan><tspan dy="-1.3">/s</tspan></text>
<text transform="translate(137.6,448) rotate(-90)" text-anchor="middle">相对偏移值</text>
</g></svg></body></html>
